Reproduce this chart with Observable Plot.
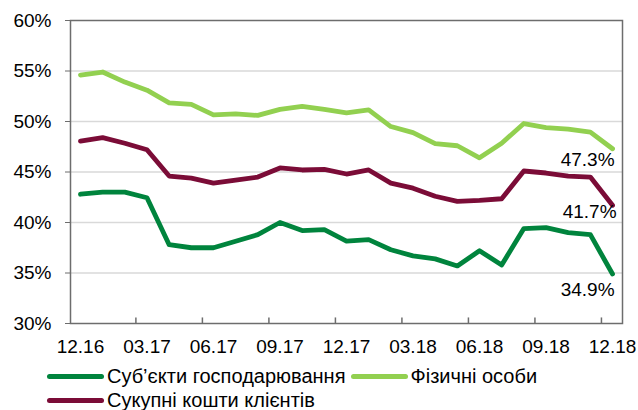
<!DOCTYPE html>
<html><head><meta charset="utf-8">
<script src="https://cdn.jsdelivr.net/npm/d3@7"></script>
<script src="https://cdn.jsdelivr.net/npm/@observablehq/plot@0.6"></script>
<style>
body{margin:0;background:#fff;font-family:"Liberation Sans",Arial,sans-serif;overflow:hidden}
#chart svg{display:block}
#legend{padding-top:2px;padding-left:47px;font-size:20px;color:#000;line-height:24px}
.row{display:flex;align-items:center;white-space:nowrap}
.item{display:flex;align-items:center}
.sw{display:inline-block;width:57px;height:5px;border-radius:3px;margin-right:3px}
</style></head><body><div id="chart"></div><div id="legend"></div>
<script>
const months = ["12.16","01.17","02.17","03.17","04.17","05.17","06.17","07.17","08.17","09.17","10.17","11.17","12.17","01.18","02.18","03.18","04.18","05.18","06.18","07.18","08.18","09.18","10.18","11.18","12.18"];
const corporate   = [42.8,43.0,43.0,42.45,37.8,37.5,37.5,38.15,38.8,40.0,39.2,39.3,38.15,38.3,37.3,36.7,36.4,35.7,37.2,35.8,39.4,39.5,39.0,38.8,34.9];
const individuals = [54.6,54.9,53.9,53.1,51.85,51.7,50.65,50.75,50.6,51.2,51.5,51.2,50.85,51.15,49.5,48.9,47.8,47.6,46.4,47.85,49.8,49.4,49.25,48.95,47.3];
const total       = [48.05,48.4,47.85,47.2,44.6,44.4,43.9,44.2,44.5,45.4,45.2,45.25,44.8,45.2,43.9,43.4,42.6,42.1,42.2,42.35,45.1,44.9,44.6,44.5,41.7];
const seriesNames = ["Суб’єкти господарювання","Фізичні особи","Сукупні кошти клієнтів"];
const seriesValues = [corporate, individuals, total];
const colors = ["#00843D","#92D050","#7B0C37"];
const yTicks = [30,35,40,45,50,55,60];
const labelTicks = months.map((m,i)=>i).filter(i=>i%3===0);
const boundaryTicks = labelTicks.slice(1).map(i=>i-0.5);

const rows = [];
seriesValues.forEach((vals,s)=>vals.forEach((v,i)=>rows.push({i, month: months[i], v, s: seriesNames[s]})));
const last = seriesValues.map((vals,s)=>({i: vals.length-1, v: vals[vals.length-1], s: seriesNames[s]}));
const labelOffsets = {[seriesNames[0]]:[2,16],[seriesNames[1]]:[2,11],[seriesNames[2]]:[4,7]};

const chart = Plot.plot({
  width: 638, height: 362,
  marginLeft: 70, marginRight: 16, marginTop: 20, marginBottom: 39,
  style: {fontFamily: '"Liberation Sans", Arial, sans-serif', fontSize: "19px", color: "#000", background: "#fff"},
  x: {domain: [-0.45, 24.45], label: null},
  y: {domain: [30, 60], label: null},
  color: {domain: seriesNames, range: colors},
  marks: [
    Plot.ruleY(yTicks.slice(1,-1), {stroke: "#d9d9d9", strokeWidth: 1.3}),
    Plot.frame({stroke: "#6d6d6d", strokeWidth: 1.5}),
    Plot.axisY({ticks: yTicks, tickFormat: d => d + "%", tickSize: 5, tickPadding: 14, stroke: "#6d6d6d", fontSize: 19, fill: "#000", label: null}),
    Plot.axisX({ticks: labelTicks, tickFormat: i => months[i], tickSize: 0, tickPadding: 16, fontSize: 19, fill: "#000", label: null}),
    Plot.ruleX(boundaryTicks, {x: d => d, y1: 30, y2: 30.55, stroke: "#6d6d6d", strokeWidth: 1.5}),
    Plot.line(rows, {x: "i", y: "v", z: "s", stroke: "s", strokeWidth: 4.8, strokeLinejoin: "round", strokeLinecap: "round"}),
    ...last.map(d => Plot.text([d], {x: "i", y: "v", text: t => t.v.toFixed(1) + "%", textAnchor: "end", dx: labelOffsets[d.s][0], dy: labelOffsets[d.s][1], fontSize: 19, fill: "#000"}))
  ]
});
document.getElementById("chart").appendChild(chart);

const lg = document.getElementById("legend");
const groups = [[0,1],[2]];
groups.forEach(g => {
  const row = document.createElement("div"); row.className = "row";
  g.forEach((s,k) => {
    const it = document.createElement("span"); it.className = "item";
    if (k>0) it.style.marginLeft = "5px";
    const sw = document.createElement("span"); sw.className = "sw"; sw.style.background = colors[s];
    const tx = document.createElement("span"); tx.textContent = seriesNames[s];
    it.appendChild(sw); it.appendChild(tx); row.appendChild(it);
  });
  lg.appendChild(row);
});
</script></body></html>
